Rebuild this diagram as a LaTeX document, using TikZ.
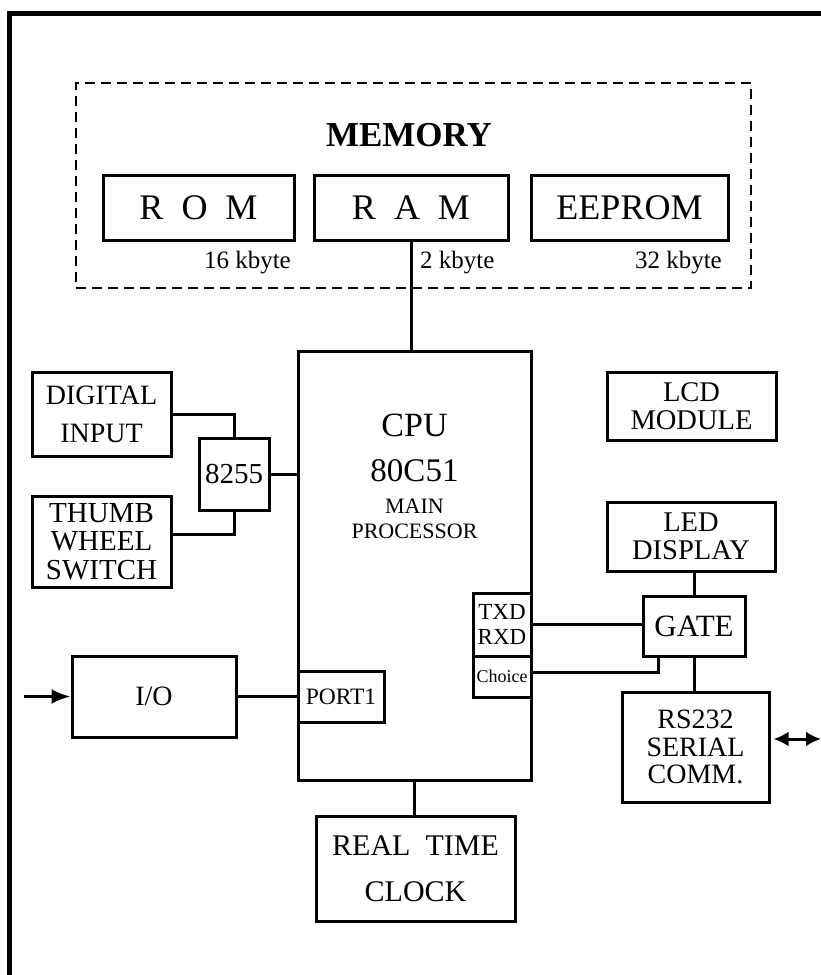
\documentclass[tikz,border=0pt]{standalone}
\usepackage{fontspec}
\setmainfont{Liberation Serif}
\usetikzlibrary{positioning,calc,arrows.meta}

\begin{document}
\begin{tikzpicture}[x=1pt, y=-1pt,
  txt/.style 2 args={font=\fontsize{#1}{#2}\selectfont},
  unitbox/.style={draw, line width=3pt, inner sep=0pt, align=center},
  memframe/.style={draw, line width=2.8pt, dash pattern=on 10pt off 6pt, inner sep=0pt},
  wire/.style={line width=3pt},
  intip/.style={line width=3pt, -{Latex[length=19pt,width=15pt]}},
  biarrow/.style={line width=3pt, {Latex[length=15pt,width=15pt]}-{Latex[length=15pt,width=15pt]}}]
\useasboundingbox (0,0) rectangle (821,975);
% outer frame (top and left only)
\draw[line width=5pt] (9,975) -- (9,13.5) -- (821,13.5);
% memory group
\node[memframe, minimum width=675pt, minimum height=205pt] (mem) at (413.5,185.5) {};
\node[font=\bfseries\fontsize{35}{40}\selectfont, inner sep=0pt] (memtitle) at (409,135) {MEMORY};
\node[unitbox, txt={36}{40}, minimum width=191pt, minimum height=65pt] (rom) at (198.5,207.5) {R\ \ O\ \ M};
\node[unitbox, txt={36}{40}, minimum width=194pt, minimum height=65pt] (ram) at (411,207.5) {R\ \ A\ \ M};
\node[unitbox, txt={36}{40}, minimum width=197pt, minimum height=65pt] (eeprom) at (629.5,207.5) {EEPROM};
\node[txt={25}{28}, inner sep=0pt, anchor=base east] (romsize) at (291,268) {16 kbyte};
\node[txt={25}{28}, inner sep=0pt, anchor=base west] (ramsize) at (420,268) {2 kbyte};
\node[txt={25}{28}, inner sep=0pt, anchor=base east] (eepromsize) at (722,268) {32 kbyte};
% processor
\node[unitbox, minimum width=233pt, minimum height=429pt] (cpu) at (414.5,565.5) {};
\node[txt={34}{38}, inner sep=0pt] (cpuname) at (414.5,425) {CPU};
\node[txt={33}{38}, inner sep=0pt] (cputype) at (414.5,471) {80C51};
\node[txt={22}{25}, inner sep=0pt, align=center] (cpurole) at (414.5,518.5) {MAIN\\PROCESSOR};
\node[unitbox, txt={23.5}{26}, minimum width=86pt, minimum height=51pt] (port1) at (341,696.5) {PORT1};
\node[unitbox, txt={23}{25}, minimum width=58pt, minimum height=63pt] (txd) at (502,624.5) {TXD\\RXD};
\node[unitbox, txt={18}{20}, minimum width=58pt, minimum height=41pt] (choice) at (502,676.5) {Choice};
% left side
\node[unitbox, txt={28}{38}, minimum width=139pt, minimum height=84pt] (digital) at (101.5,414) {DIGITAL\\INPUT};
\node[unitbox, txt={29}{28.5}, minimum width=139pt, minimum height=91pt] (thumb) at (101.5,541.5) {THUMB\\WHEEL\\SWITCH};
\node[unitbox, txt={29}{32}, minimum width=70pt, minimum height=72pt] (ppi) at (234,474) {8255};
\node[unitbox, txt={28}{32}, minimum width=164pt, minimum height=81pt] (io) at (154,696.5) {I/O};
\coordinate (iosrc) at (24,696.5);
% right side
\node[unitbox, txt={28.5}{28}, minimum width=169pt, minimum height=68pt] (lcd) at (691.5,406) {LCD\\MODULE};
\node[unitbox, txt={28.5}{28}, minimum width=168pt, minimum height=69pt] (led) at (691,536.5) {LED\\DISPLAY};
\node[unitbox, txt={31}{34}, minimum width=102pt, minimum height=60pt] (gate) at (694,626) {GATE};
\node[unitbox, txt={28}{27.5}, minimum width=147pt, minimum height=110pt] (rs) at (695.5,747) {RS232\\SERIAL\\COMM.};
\coordinate (rsport) at (821,739);
% bottom
\node[unitbox, txt={30}{46}, minimum width=199pt, minimum height=105pt] (rtc) at (415.5,868.5) {REAL~~TIME\\CLOCK};
% connections
\draw[wire] (ram.south) -- (ram.south |- cpu.north);
\draw[wire] (digital.east) -| (ppi.north);
\draw[wire] ([yshift=7.5pt]thumb.east) -| (ppi.south);
\draw[wire] (ppi.east) -- (ppi.east -| cpu.west);
\draw[intip] (iosrc) -- (io.west);
\draw[wire] (io.east) -- (port1.west);
\draw[wire] (txd.east) -- (txd.east -| gate.west);
\draw[wire] ([yshift=4.5pt]choice.east) -| ([xshift=-36pt]gate.south);
\draw[wire] (gate.north) -- (gate.north |- led.south);
\draw[wire] (gate.south) -- (gate.south |- rs.north);
\draw[biarrow] ([xshift=3pt,yshift=8pt]rs.east) -- (rsport);
\draw[wire] (cpu.south) -- (cpu.south |- rtc.north);
\end{tikzpicture}
\end{document}
